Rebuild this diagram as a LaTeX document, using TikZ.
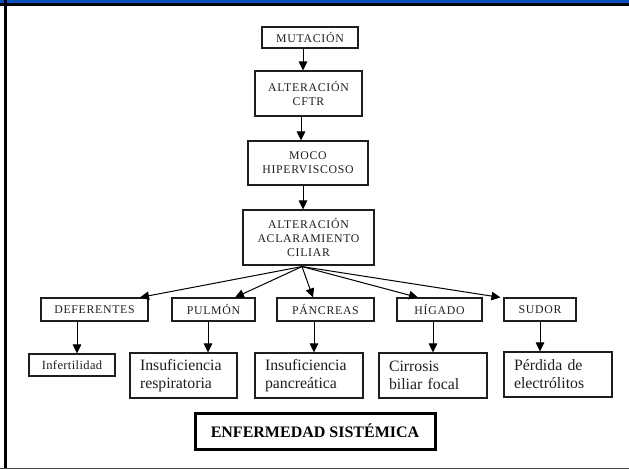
\documentclass[tikz,border=0pt]{standalone}
\usepackage{fontspec}
\setmainfont{Liberation Serif}
\newfontfamily\capsf[LetterSpace=6]{Liberation Serif}
\newfontfamily\smallsf[LetterSpace=3]{Liberation Serif}
\usetikzlibrary{arrows.meta}
\definecolor{topblue}{RGB}{10,80,190}
\definecolor{ink}{RGB}{30,30,30}
\begin{document}
\begin{tikzpicture}[x=1pt,y=-1pt,
  box/.style={draw=ink,line width=1.1pt,inner sep=0pt,text=ink,align=center},
  capbox/.style={box,font=\capsf\fontsize{11.8}{14}\selectfont},
  bigbox/.style={box,align=left,inner xsep=10pt,minimum height=45pt,
     font=\fontsize{15.8}{18}\selectfont},
  arr/.style={draw=black,line width=1pt,-{Triangle[length=9pt,width=8.5pt]}}]
\useasboundingbox (0,0) rectangle (629,469);
% frame
\fill[topblue] (0,0) rectangle (629,2.5);
\fill[black] (0,2.5) rectangle (629,6);
\fill[black] (4,0) rectangle (7,469);
\fill[black!70] (0,467.5) rectangle (629,469);
% main chain
\node[capbox,minimum width=96pt,minimum height=21pt] (mut) at (310,37.5) {MUTACIÓN};
\node[capbox,minimum width=107pt,minimum height=45pt] (cftr) at (308.5,93.5) {ALTERACIÓN\\CFTR};
\node[capbox,minimum width=120pt,minimum height=44pt] (moco) at (308,163) {MOCO\\HIPERVISCOSO};
\node[capbox,minimum width=131pt,minimum height=55pt] (acl) at (308.5,237.5) {ALTERACIÓN\\ACLARAMIENTO\\CILIAR};
% organs
\node[capbox,minimum width=107pt,minimum height=23pt] (def) at (94.5,309.5) {DEFERENTES};
\node[capbox,minimum width=83pt,minimum height=23pt] (pul) at (213.5,309.5) {PULMÓN};
\node[capbox,minimum width=97pt,minimum height=23pt] (pan) at (325.5,309.5) {PÁNCREAS};
\node[capbox,minimum width=85pt,minimum height=23pt] (hig) at (439.5,309.5) {HÍGADO};
\node[capbox,minimum width=72pt,minimum height=23pt] (sud) at (540,309.5) {SUDOR};
% consequences
\node[box,minimum width=86pt,minimum height=22pt,font=\smallsf\fontsize{12.5}{14}\selectfont] (inf) at (72,365) {Infertilidad};
\node[bigbox,text width=87pt] (resp) at (183.5,375.5) {Insuficiencia\\respiratoria};
\node[bigbox,text width=88pt] (panc) at (309,375.5) {Insuficiencia\\pancreática};
\node[bigbox,text width=88pt] (cirr) at (433,375.5) {Cirrosis\\biliar focal};
\node[bigbox,text width=88pt] (perd) at (558,374.5) {Pérdida de\\electrólitos};
% final
\node[box,line width=3pt,draw=black,text=black,minimum width=240pt,minimum height=36pt,
  font=\bfseries\fontsize{16}{18}\selectfont] (enf) at (315,431) {ENFERMEDAD SISTÉMICA};
% chain arrows
\draw[arr] ([xshift=-7pt]mut.south) -- ([xshift=-7pt]mut.south |- cftr.north);
\draw[arr] ([xshift=-7.5pt]cftr.south) -- ([xshift=-7.5pt]cftr.south |- moco.north);
\draw[arr] ([xshift=-5pt]moco.south) -- ([xshift=-5pt]moco.south |- acl.north);
% fan
\coordinate (fan) at ([xshift=-6.5pt,yshift=-1pt]acl.south);
\draw[arr] (fan) -- ([xshift=45.5pt]def.north);
\draw[arr] (fan) -- ([xshift=21.5pt]pul.north);
\draw[arr] (fan) -- ([xshift=-12.5pt]pan.north);
\draw[arr] (fan) -- ([xshift=-21.5pt]hig.north);
\draw[arr] (fan) -- ([xshift=-3pt]sud.north west);
% organ to consequence
\draw[arr] ([xshift=-17.5pt]def.south) -- ([xshift=-17.5pt]def.south |- inf.north);
\draw[arr] ([xshift=-5.5pt]pul.south) -- ([xshift=-5.5pt]pul.south |- resp.north);
\draw[arr] ([xshift=-11.5pt]pan.south) -- ([xshift=-11.5pt]pan.south |- panc.north);
\draw[arr] ([xshift=-6.5pt]hig.south) -- ([xshift=-6.5pt]hig.south |- cirr.north);
\draw[arr] (sud.south) -- (sud.south |- perd.north);
\end{tikzpicture}
\end{document}
